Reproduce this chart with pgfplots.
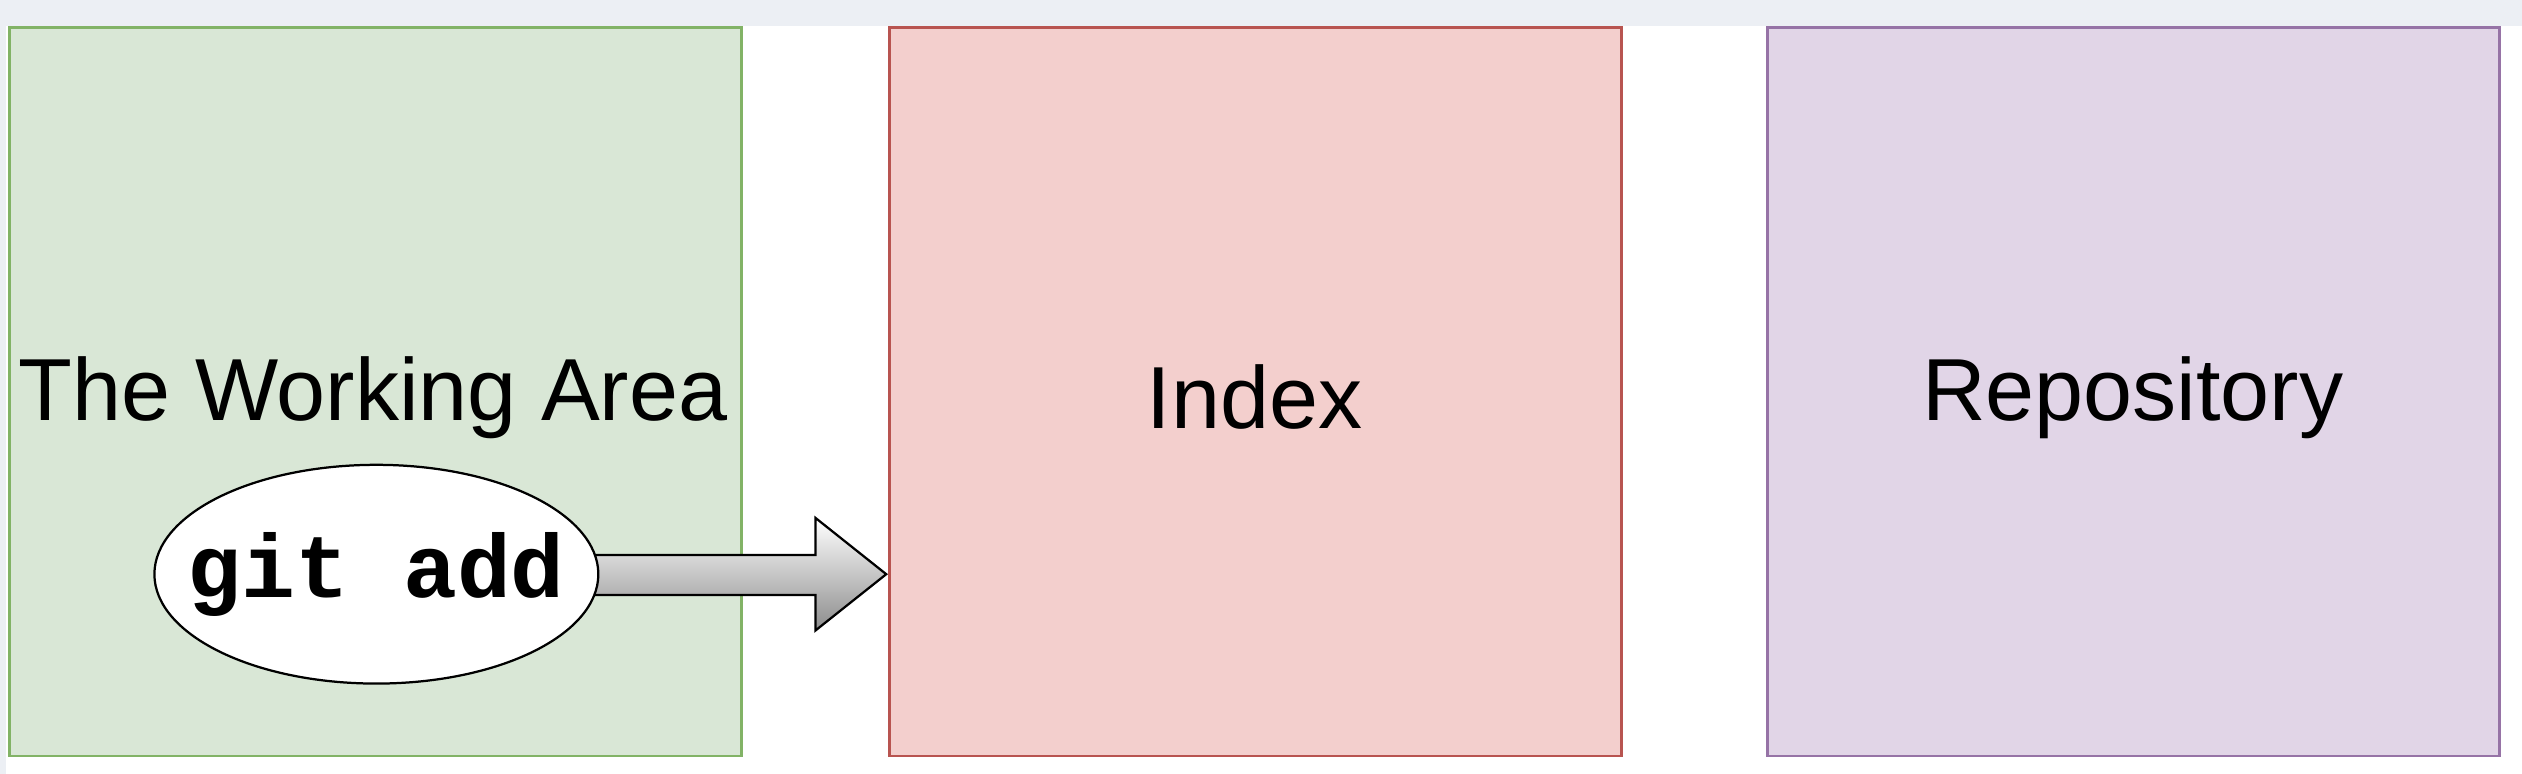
\documentclass[border=0pt]{standalone}
\usepackage{pgfplots}
\pgfplotsset{compat=1.18}
\usepackage{fontspec}
\setmainfont{Liberation Sans}
\setmonofont{Liberation Mono}
\definecolor{bg}{HTML}{ECEFF4}
\definecolor{gfill}{HTML}{D9E7D6}
\definecolor{gline}{HTML}{82B366}
\definecolor{rfill}{HTML}{F3CFCD}
\definecolor{rline}{HTML}{B85450}
\definecolor{pfill}{HTML}{E1D5E7}
\definecolor{pline}{HTML}{9673A6}
\begin{document}
\begin{tikzpicture}
\begin{axis}[x=0.5bp,y=-0.5bp,xmin=0,xmax=1568,ymin=0,ymax=481,
  hide axis,clip=false,scale only axis]
\fill[white] (axis cs:0,0) rectangle (axis cs:1568,481);
\fill[bg] (axis cs:0,0) rectangle (axis cs:1568,16);
\fill[bg] (axis cs:0,0) rectangle (axis cs:4,481);
\draw[gline,fill=gfill,line width=0.8pt] (axis cs:6,17) rectangle (axis cs:461,470);
\draw[rline,fill=rfill,line width=0.8pt] (axis cs:553,17) rectangle (axis cs:1008,470);
\draw[pline,fill=pfill,line width=0.8pt] (axis cs:1099,17) rectangle (axis cs:1554,470);
\node[font=\fontsize{27.5}{30}\selectfont] at (axis cs:232,247) {The Working Area};
\node[font=\fontsize{27.5}{30}\selectfont] at (axis cs:780,247) {Index};
\node[font=\fontsize{27.5}{30}\selectfont] at (axis cs:1326,247) {Repository};
\shade[top color=white,bottom color=gray!90,draw=black,line width=0.7pt]
  (axis cs:366,345) -- (axis cs:507,345) -- (axis cs:507,322) -- (axis cs:551,357)
  -- (axis cs:507,392) -- (axis cs:507,370) -- (axis cs:366,370) -- cycle;
\draw[black,fill=white,line width=0.7pt] (axis cs:234,357) ellipse [x radius=69bp,y radius=34bp];
\node[font=\ttfamily\bfseries\fontsize{28}{30}\selectfont] at (axis cs:234,357) {git add};
\end{axis}
\end{tikzpicture}
\end{document}
